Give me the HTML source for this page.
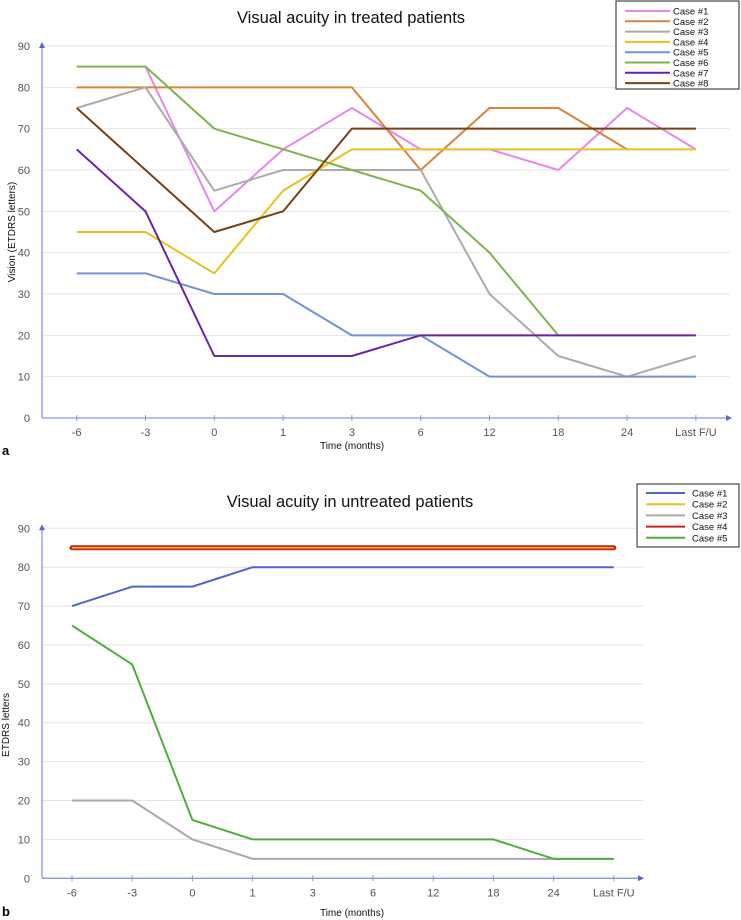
<!DOCTYPE html>
<html><head><meta charset="utf-8"><style>
body{margin:0;background:#fff;}
svg{display:block;font-family:"Liberation Sans",sans-serif;}
</style></head><body>
<svg id="c" width="741" height="920"></svg>
<script>
const catsA=["-6","-3","0","1","3","6","12","18","24","Last F/U"];
const yTicks=[0,10,20,30,40,50,60,70,80,90];
const namesA=["Case #1","Case #2","Case #3","Case #4","Case #5","Case #6","Case #7","Case #8"];
const colorsA=["#e985f0","#d9843a","#ababab","#e8c21e","#6f94d8","#7fb34d","#6a22a8","#7a3f12"];
const a1=[null,85,50,65,75,65,65,60,75,65];
const a2=[80,80,80,80,80,60,75,75,65,null];
const a3=[75,80,55,60,60,60,30,15,10,15];
const a4=[45,45,35,55,65,65,65,65,65,65];
const a5=[35,35,30,30,20,20,10,10,10,10];
const a6=[85,85,70,65,60,55,40,20,null,null];
const a7=[65,50,15,15,15,20,20,20,20,20];
const a8=[75,60,45,50,70,70,70,70,70,70];
const seriesA=[a1,a2,a3,a4,a5,a6,a7,a8];
const namesB=["Case #1","Case #2","Case #3","Case #4","Case #5"];
const colorsB=["#4a66c8","#e8c21e","#a8a8a8","#cc2020","#4caf3c"];
const b1=[70,75,75,80,80,80,80,80,80,80];
const b2=[85,85,85,85,85,85,85,85,85,85];
const b3=[20,20,10,5,5,5,5,5,5,5];
const b4=[85,85,85,85,85,85,85,85,85,85];
const b5=[65,55,15,10,10,10,10,10,5,5];
const seriesB=[b1,b2,b3,b4,b5];

const svg=document.getElementById('c');
const NS="http://www.w3.org/2000/svg";
function mk(tag,attrs,parent){const e=document.createElementNS(NS,tag);for(const k in attrs)e.setAttribute(k,attrs[k]);(parent||svg).appendChild(e);return e;}

function chart(cfg){
  const g=mk('g',{});
  
  
  const y=v=>cfg.y0+(cfg.y90-cfg.y0)*v/90;
  const x=i=>cfg.x0+i*cfg.dx;
  yTicks.forEach(t=>{
    if(t>0){const l=mk('line',{x1:cfg.ax,x2:cfg.gridEnd,y1:y(t),y2:y(t),stroke:'#e4e4e4','stroke-width':1},g);
    }
    const tx=mk('text',{x:cfg.ax-12,y:y(t)+4,'text-anchor':'end','font-size':11,fill:'#555'},g);
    tx.textContent=t;
    
  });
  const xa=mk('line',{x1:cfg.ax,x2:cfg.axEnd,y1:cfg.y0,y2:cfg.y0,stroke:'#8898d8','stroke-width':1.3},g);
  
  mk('path',{d:`M${cfg.axEnd+4},${cfg.y0} l-6,-3 v6 z`,fill:'#5468d0'},g);
  const ya=mk('line',{x1:cfg.ax,x2:cfg.ax,y1:cfg.y0,y2:cfg.y90-2,stroke:'#8898d8','stroke-width':1.3},g);
  
  mk('path',{d:`M${cfg.ax},${cfg.y90-4} l-3,6 h6 z`,fill:'#5468d0'},g);
  catsA.forEach((c,i)=>{
    mk('line',{x1:x(i),x2:x(i),y1:cfg.y0-3,y2:cfg.y0+3,stroke:'#8898d8'},g);
    const t=mk('text',{x:x(i),y:cfg.y0+18,'text-anchor':'middle','font-size':11,fill:'#555'},g);
    t.textContent=c;
    
  });
  const order=cfg.order||cfg.series.map((_,i)=>i);
  order.forEach(k=>{
    const s=cfg.series[k];
    let d='';let pen=false;
    s.forEach((v,i)=>{if(v==null){pen=false;return;}d+=(pen?'L':'M')+x(i)+','+y(v)+' ';pen=true;});
    const w=(cfg.widths&&cfg.widths[k])||2;
    const p=mk('path',{d,fill:'none',stroke:cfg.colors[k],'stroke-width':w,'stroke-linejoin':'round','stroke-linecap':w>3?'round':'butt'},g);
    
    
  });
  const ti=mk('text',{x:cfg.titleX,y:cfg.titleY,'text-anchor':'middle','font-size':16.5,fill:'#111'},g);
  ti.textContent=cfg.title;
  
  const xt=mk('text',{x:352,y:cfg.xtY,'text-anchor':'middle','font-size':10,fill:'#111'},g);
  xt.textContent='Time (months)';
  
  const yt=mk('text',{x:cfg.ytX,y:cfg.ytY,'text-anchor':'middle','font-size':10,fill:'#111',transform:`rotate(-90 ${cfg.ytX} ${cfg.ytY})`},g);
  yt.textContent=cfg.ytitle;
  
  const pl=mk('text',{x:2,y:cfg.panelY,'font-size':13,'font-weight':'bold',fill:'#000'},g);
  pl.textContent=cfg.panel;
  
  const L=cfg.leg;
  const lg=mk('g',{},g);
  
  mk('rect',{x:L.x,y:L.y,width:L.w,height:L.h,fill:'#fff',stroke:'#222','stroke-width':1},lg);
  cfg.names.forEach((n,k)=>{
    const yy=L.y+L.top+k*L.step;
    const ln=mk('line',{x1:L.x+9,x2:L.x+L.sw,y1:yy,y2:yy,stroke:cfg.colors[k],'stroke-width':2},lg);
    
    const t=mk('text',{x:L.x+L.tx,y:yy+3.5,'font-size':9.5,fill:'#111'},lg);
    t.textContent=n;
    
  });
}
chart({id:'chart-treated',x0:76.7,dx:68.8,y0:418,y90:46,ax:42,axEnd:728,gridEnd:730,series:seriesA,colors:colorsA,
  title:'Visual acuity in treated patients',titleX:351,titleY:23,xtY:449,ytX:15,ytY:232,ytitle:'Vision (ETDRS letters)',panel:'a',panelY:455,
  names:namesA,leg:{x:616,y:1,w:123,h:88,top:10,step:10.3,tx:57,sw:54}});
chart({id:'chart-untreated',x0:72,dx:60.2,y0:878.3,y90:528.3,ax:42,axEnd:640,gridEnd:644,series:seriesB,colors:colorsB,
  order:[0,2,4,3,1],widths:[2,1.6,2,5,2],
  title:'Visual acuity in untreated patients',titleX:350,titleY:507,xtY:916,ytX:9,ytY:725,ytitle:'ETDRS letters',panel:'b',panelY:916,
  names:namesB,leg:{x:637,y:484,w:102,h:63,top:9,step:11.2,tx:55,sw:48}});
</script>
</body></html>
